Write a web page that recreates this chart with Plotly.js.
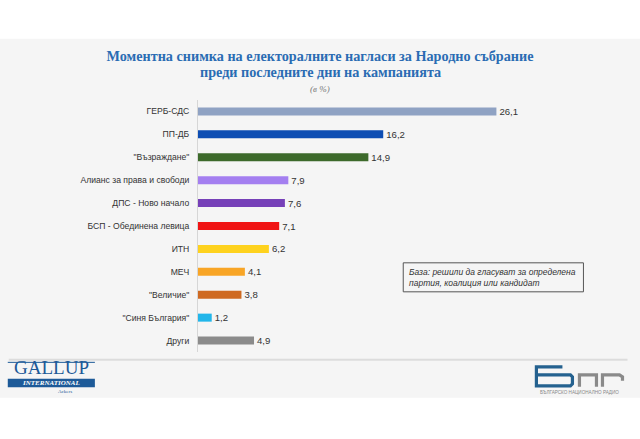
<!DOCTYPE html>
<html><head><meta charset="utf-8">
<script src="https://cdn.plot.ly/plotly-3.0.1.min.js"></script>
<style>html,body{margin:0;padding:0;background:#fff;}#chart{width:640px;height:439px;}</style>
</head><body><div id="chart"></div>
<script>
var categories = ['ГЕРБ-СДС','ПП-ДБ','"Възраждане"','Алианс за права и свободи','ДПС - Ново начало','БСП - Обединена левица','ИТН','МЕЧ','"Величие"','"Синя България"','Други'];
var values = [26.1,16.2,14.9,7.9,7.6,7.1,6.2,4.1,3.8,1.2,4.9];
var barColors = ['#8fa2c3','#0d4db3','#3d6a2b','#a47ff0','#7640b8','#f01414','#fed21e','#f8a526','#cf6a22','#22b6ea','#8b8b8b'];
var titleLine1 = 'Моментна снимка на електоралните нагласи за Народно събрание';
var titleLine2 = 'преди последните дни на кампанията';
var unitNote = '(в %)';
var baseNote = 'База: решили да гласуват за определена<br>партия, коалиция или кандидат';

var W=640,H=439,L=198,R=99.4,T=100.25,B=86.85;
var PW=W-L-R, PH=H-T-B;
function px(x){return (x-L)/PW;}
function py(y){return (H-B-y)/PH;}
function pathStr(pts){return pts.map(function(p,i){return (i?'L':'M')+px(p[0])+','+py(p[1]);}).join(' ');}

var trace = {
  type:'bar', orientation:'h', y:categories, x:values,
  marker:{color:barColors},
  width:0.35,
  text:values.map(function(v){return v.toFixed(1).replace('.',',');}),
  textposition:'outside', cliponaxis:false, constraintext:'none',
  textfont:{family:'Liberation Sans, Arial, sans-serif', size:9.6, color:'#333'},
  hoverinfo:'none'
};

var shapes = [
  {type:'rect', xref:'paper', yref:'paper', x0:px(0), x1:px(640), y0:py(39), y1:py(398), fillcolor:'#f5f5f5', line:{width:0}, layer:'below'},
  {type:'line', xref:'paper', yref:'paper', x0:px(9), x1:px(627), y0:py(360), y1:py(360), line:{color:'#dcdcdc', width:2}, layer:'below'},
  {type:'rect', xref:'paper', yref:'paper', x0:px(403), x1:px(583), y0:py(263), y1:py(292), fillcolor:'rgba(0,0,0,0)', line:{color:'#555', width:1}},
  // Gallup band
  {type:'rect', xref:'paper', yref:'paper', x0:px(8), x1:px(95), y0:py(379), y1:py(387.5), fillcolor:'#1d5a98', line:{width:0}},
  {type:'line', xref:'paper', yref:'paper', x0:px(8), x1:px(95), y0:py(362.5), y1:py(362.5), line:{color:'#1d5a98', width:1}},
  // BNR logo
  {type:'path', xref:'paper', yref:'paper', path:pathStr([[562,367],[536,367],[536,386],[570,386],[572,384],[572,377],[570,375],[536,375]]), line:{color:'#24618f', width:3.2}, fillcolor:'rgba(0,0,0,0)'},
  {type:'path', xref:'paper', yref:'paper', path:pathStr([[579,387],[579,375],[596,375],[596,387]]), line:{color:'#8a8a8a', width:3.2}, fillcolor:'rgba(0,0,0,0)'},
  {type:'path', xref:'paper', yref:'paper', path:pathStr([[602,387],[602,375],[619,375],[622,377],[622,381]]), line:{color:'#8a8a8a', width:3.2}, fillcolor:'rgba(0,0,0,0)'}
];

var annotations = [
  {text:'<b>'+titleLine2+'</b>', xref:'paper', yref:'paper', x:px(320), y:py(72), xanchor:'center', yanchor:'middle', showarrow:false, font:{family:'Liberation Serif, serif', size:14.2, color:'#2a6cb3'}},
  {text:'<i>'+unitNote+'</i>', xref:'paper', yref:'paper', x:px(320), y:py(89), xanchor:'center', yanchor:'middle', showarrow:false, font:{family:'Liberation Serif, serif', size:9, color:'#777'}},
  {text:'<i>'+baseNote+'</i>', xref:'paper', yref:'paper', x:px(407), y:py(277.5), xanchor:'left', yanchor:'middle', align:'left', showarrow:false, font:{family:'Liberation Sans, Arial, sans-serif', size:8.5, color:'#333'}},
  {text:'GALLUP', xref:'paper', yref:'paper', x:px(51.5), y:py(368), xanchor:'center', yanchor:'middle', showarrow:false, font:{family:'Liberation Serif, serif', size:19, color:'#1d5a98'}},
  {text:'<b><i>INTERNATIONAL</i></b>', xref:'paper', yref:'paper', x:px(51.5), y:py(383.2), xanchor:'center', yanchor:'middle', showarrow:false, font:{family:'Liberation Serif, serif', size:7, color:'#ffffff'}},
  {text:'Ackers', xref:'paper', yref:'paper', x:px(65), y:py(392), xanchor:'center', yanchor:'middle', showarrow:false, font:{family:'Liberation Serif, serif', size:5, color:'#1d5a98'}},
  {text:'БЪЛГАРСКО НАЦИОНАЛНО РАДИО', xref:'paper', yref:'paper', x:px(579), y:py(393), xanchor:'center', yanchor:'middle', showarrow:false, font:{family:'Liberation Sans, Arial, sans-serif', size:4.6, color:'#888'}}
];

var layout = {
  width:W, height:H,
  margin:{l:L, r:R, t:T, b:B},
  paper_bgcolor:'#ffffff', plot_bgcolor:'rgba(0,0,0,0)',
  showlegend:false,
  title:{text:'<b>'+titleLine1+'</b>', x:0.5, xref:'container', xanchor:'center', y:(H-56)/H, yref:'container', yanchor:'middle', font:{family:'Liberation Serif, serif', size:14.2, color:'#2a6cb3'}},
  xaxis:{range:[0,30], visible:false, fixedrange:true},
  yaxis:{type:'category', autorange:'reversed', showline:true, linecolor:'#d6d6d6', linewidth:1, ticks:'', showgrid:false, zeroline:false, ticklabelstandoff:6, tickfont:{family:'Liberation Sans, Arial, sans-serif', size:8.6, color:'#333'}},
  shapes:shapes, annotations:annotations
};
Plotly.newPlot('chart',[trace],layout,{displayModeBar:false, staticPlot:true});
</script></body></html>
